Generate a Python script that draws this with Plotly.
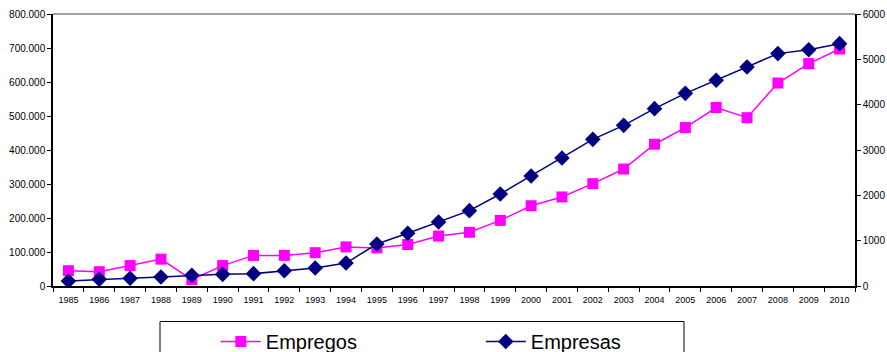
import plotly.graph_objects as go

# Annual series, 1985-2010
anos = [str(a) for a in range(1985, 2011)]

empregos = [45000, 42000, 60000, 79000, 19000, 60000, 90000, 90000, 98000, 115000,
            112000, 122000, 147000, 158000, 193000, 236000, 262000, 301000, 344000, 417000,
            466000, 525000, 495000, 597000, 654000, 697000]

empresas = [110, 147, 170, 199, 235, 257, 272, 338, 397, 507,
            926, 1162, 1412, 1662, 2029, 2426, 2824, 3235, 3544, 3912,
            4250, 4537, 4831, 5126, 5213, 5346]

left_ticks = [0, 100000, 200000, 300000, 400000, 500000, 600000, 700000, 800000]
right_ticks = [0, 1000, 2000, 3000, 4000, 5000, 6000]

fig = go.Figure()

fig.add_trace(go.Scatter(
    x=anos, y=empregos, name="Empregos", mode="lines+markers",
    line=dict(color="#FF00FF", width=1.5),
    marker=dict(symbol="square", size=11, color="#FF00FF"),
    yaxis="y",
))

fig.add_trace(go.Scatter(
    x=anos, y=empresas, name="Empresas", mode="lines+markers",
    line=dict(color="#000080", width=1.5),
    marker=dict(symbol="diamond", size=12, color="#000080"),
    yaxis="y2",
))

axis_font = dict(family="Liberation Sans, Arial, sans-serif", size=10, color="#000000")

fig.update_layout(
    width=887, height=352,
    margin=dict(l=53, r=32, t=14, b=66, autoexpand=False),
    paper_bgcolor="white", plot_bgcolor="white",
    separators=",.",
    showlegend=True,
    legend=dict(
        orientation="h", x=0.203, xanchor="left", y=-0.204, yanchor="middle",
        font=dict(family="Liberation Sans, Arial, sans-serif", size=20, color="#000000"),
        bgcolor="rgba(0,0,0,0)", borderwidth=0,
        entrywidth=210, entrywidthmode="pixels",
        itemwidth=40,
    ),
    xaxis=dict(
        type="category", range=[-0.5, 25.5],
        tickson="boundaries", ticks="outside", ticklen=4, tickcolor="#000000",
        ticklabelstandoff=4,
        showline=True, linecolor="#000000", linewidth=1.5,
        showgrid=False, zeroline=False,
        tickfont=dict(family="Liberation Sans, Arial, sans-serif", size=9, color="#000000"),
    ),
    yaxis=dict(
        range=[0, 800000], tickvals=left_ticks, tickformat=",d",
        ticks="outside", ticklen=4, tickcolor="#000000",
        showline=True, linecolor="#000000", linewidth=1.5,
        showgrid=False, zeroline=False, tickfont=axis_font,
    ),
    yaxis2=dict(
        range=[0, 6000], tickvals=right_ticks, tickformat="d",
        overlaying="y", side="right",
        ticks="outside", ticklen=4, tickcolor="#000000",
        showline=True, linecolor="#000000", linewidth=1.5,
        showgrid=False, zeroline=False, tickfont=axis_font,
    ),
    shapes=[
        # grey frame line along the top of the plot area
        dict(type="line", xref="paper", yref="paper", x0=0, x1=1, y0=1, y1=1,
             line=dict(color="#808080", width=1.5), layer="below"),
        # legend frame
        dict(type="rect", xref="paper", yref="paper",
             x0=(160 - 53) / 802, x1=(684 - 53) / 802,
             y0=-0.35, y1=(286 - 321.5) / 272,
             line=dict(color="#000000", width=1), fillcolor="rgba(0,0,0,0)"),
    ],
)

fig.write_html("out.html")
